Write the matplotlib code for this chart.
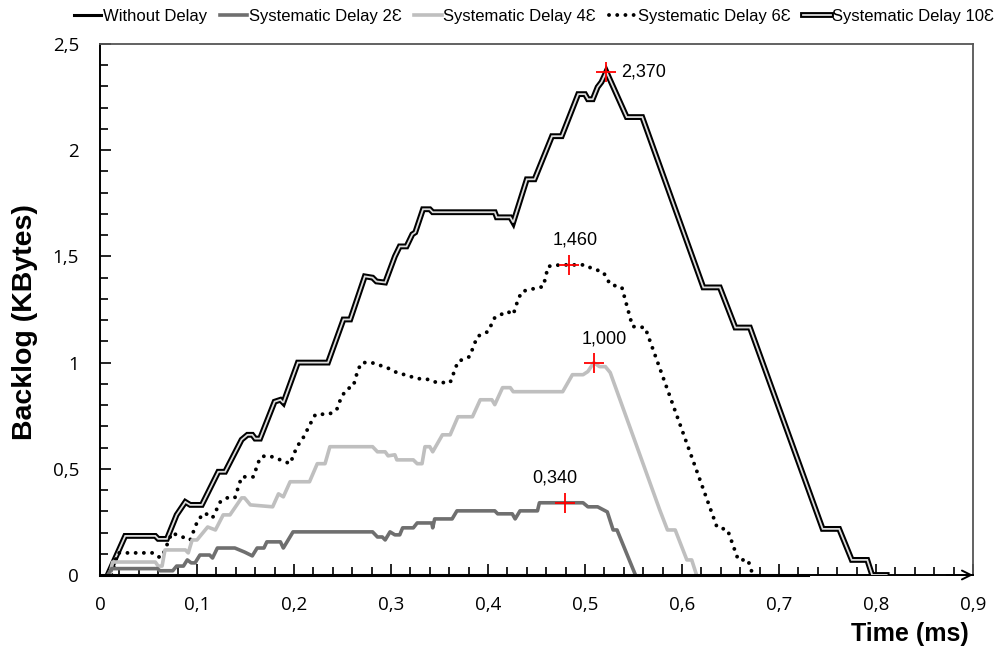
import matplotlib
matplotlib.use('Agg')
import matplotlib.pyplot as plt
import matplotlib.patheffects as pe
from matplotlib.ticker import MultipleLocator, FuncFormatter

plt.rcParams['font.family'] = ['Liberation Sans', 'DejaVu Sans']

# backlog traces (time in ms, backlog in KBytes)
t_none = [0.0, 0.73]
b_none = [0.0, 0.0]

t_d2 = [0.008, 0.012, 0.059, 0.062, 0.075, 0.079, 0.086, 0.090, 0.094, 0.098, 0.103, 0.113,
        0.116, 0.121, 0.139, 0.149, 0.157, 0.162, 0.169, 0.172, 0.186, 0.189, 0.194, 0.199,
        0.281, 0.286, 0.291, 0.294, 0.299, 0.304, 0.309, 0.312, 0.323, 0.327, 0.342, 0.343,
        0.345, 0.363, 0.368, 0.407, 0.410, 0.425, 0.428, 0.433, 0.451, 0.453, 0.479, 0.498,
        0.503, 0.513, 0.523, 0.529, 0.533, 0.552]
b_d2 = [0.0, 0.03, 0.03, 0.02, 0.02, 0.042, 0.042, 0.071, 0.057, 0.057, 0.094, 0.094,
        0.08, 0.127, 0.127, 0.108, 0.09, 0.127, 0.127, 0.156, 0.156, 0.127, 0.165, 0.203,
        0.203, 0.179, 0.179, 0.165, 0.203, 0.189, 0.189, 0.222, 0.222, 0.245, 0.245, 0.222,
        0.264, 0.264, 0.302, 0.302, 0.288, 0.288, 0.264, 0.302, 0.302, 0.34, 0.34, 0.34,
        0.321, 0.321, 0.297, 0.212, 0.212, 0.0]

t_d4 = [0.010, 0.013, 0.057, 0.060, 0.064, 0.067, 0.088, 0.091, 0.095, 0.100, 0.111, 0.119,
        0.127, 0.134, 0.146, 0.149, 0.155, 0.178, 0.184, 0.189, 0.196, 0.216, 0.224, 0.232,
        0.237, 0.281, 0.286, 0.294, 0.297, 0.304, 0.306, 0.323, 0.327, 0.332, 0.335, 0.340,
        0.343, 0.353, 0.361, 0.369, 0.384, 0.392, 0.404, 0.407, 0.415, 0.423, 0.426, 0.477,
        0.487, 0.498, 0.503, 0.509, 0.515, 0.521, 0.526, 0.577, 0.585, 0.593, 0.605, 0.610,
        0.615]
b_d4 = [0.0, 0.061, 0.061, 0.042, 0.042, 0.118, 0.118, 0.104, 0.165, 0.165, 0.226, 0.212,
        0.283, 0.283, 0.363, 0.363, 0.33, 0.321, 0.382, 0.368, 0.439, 0.439, 0.524, 0.524,
        0.604, 0.604, 0.58, 0.58, 0.561, 0.566, 0.542, 0.542, 0.524, 0.524, 0.604, 0.604,
        0.58, 0.66, 0.66, 0.745, 0.745, 0.825, 0.825, 0.802, 0.882, 0.882, 0.863, 0.863,
        0.943, 0.943, 0.958, 1.0, 0.981, 0.981, 0.953, 0.307, 0.212, 0.212, 0.071, 0.071,
        0.0]

t_d6 = [0.012, 0.018, 0.054, 0.060, 0.064, 0.074, 0.085, 0.093, 0.101, 0.108, 0.116, 0.124,
        0.131, 0.139, 0.146, 0.158, 0.165, 0.170, 0.177, 0.186, 0.196, 0.203, 0.209, 0.219,
        0.222, 0.237, 0.244, 0.249, 0.255, 0.261, 0.266, 0.270, 0.280, 0.296, 0.306, 0.314,
        0.327, 0.340, 0.347, 0.361, 0.369, 0.381, 0.389, 0.400, 0.407, 0.420, 0.426, 0.431,
        0.435, 0.448, 0.457, 0.462, 0.474, 0.484, 0.500, 0.505, 0.519, 0.526, 0.538, 0.549,
        0.562, 0.636, 0.647, 0.658, 0.668, 0.673]
b_d6 = [0.0, 0.104, 0.104, 0.085, 0.085, 0.198, 0.179, 0.165, 0.26, 0.292, 0.269, 0.344,
        0.363, 0.363, 0.462, 0.462, 0.552, 0.561, 0.557, 0.542, 0.524, 0.604, 0.642, 0.731,
        0.755, 0.759, 0.778, 0.84, 0.877, 0.887, 0.967, 1.0, 1.0, 0.976, 0.953, 0.943,
        0.925, 0.92, 0.906, 0.906, 1.005, 1.028, 1.123, 1.146, 1.212, 1.241, 1.226, 1.297,
        1.335, 1.349, 1.358, 1.453, 1.46, 1.46, 1.46, 1.448, 1.425, 1.368, 1.354, 1.17,
        1.165, 0.226, 0.212, 0.071, 0.071, 0.0]

t_d10 = [0.008, 0.026, 0.057, 0.060, 0.069, 0.079, 0.088, 0.093, 0.105, 0.122, 0.129, 0.146,
         0.152, 0.157, 0.160, 0.165, 0.180, 0.186, 0.189, 0.204, 0.235, 0.251, 0.258, 0.273,
         0.281, 0.285, 0.294, 0.304, 0.309, 0.316, 0.322, 0.325, 0.333, 0.340, 0.343, 0.407,
         0.409, 0.423, 0.426, 0.440, 0.448, 0.466, 0.476, 0.493, 0.500, 0.503, 0.508, 0.513,
         0.517, 0.522, 0.543, 0.559, 0.622, 0.639, 0.655, 0.670, 0.745, 0.762, 0.775, 0.791,
         0.796, 0.811]
b_d10 = [0.0, 0.184, 0.184, 0.17, 0.17, 0.283, 0.344, 0.33, 0.33, 0.486, 0.486, 0.637,
         0.66, 0.66, 0.642, 0.642, 0.816, 0.825, 0.811, 1.0, 1.0, 1.203, 1.203, 1.406,
         1.40, 1.382, 1.377, 1.5, 1.547, 1.547, 1.604, 1.613, 1.722, 1.722, 1.708, 1.708,
         1.684, 1.684, 1.66, 1.863, 1.863, 2.066, 2.066, 2.264, 2.264, 2.24, 2.24, 2.297,
         2.321, 2.37, 2.156, 2.156, 1.354, 1.354, 1.165, 1.165, 0.217, 0.217, 0.071, 0.071,
         0.0, 0.0]

# maximum backlog points and where their labels sit (pixel offsets)
peak_t = [0.522, 0.484, 0.509, 0.479]
peak_b = [2.370, 1.460, 1.000, 0.340]
peak_off = [(15, 0), (6, 25), (11, 24), (-10, 25)]
peak_ha = ['left', 'center', 'center', 'center']

fig = plt.figure(figsize=(10, 6.5), dpi=100)
ax = fig.add_axes([0.1, 0.1154, 0.873, 0.8169])

ax.plot(t_d10, b_d10, color='#dcdcdc', lw=1.3, solid_joinstyle='miter',
        path_effects=[pe.Stroke(linewidth=4.2, foreground='black'), pe.Normal()],
        label='Systematic Delay 10Ɛ', zorder=3)
ax.plot(t_d6, b_d6, color='black', lw=2.8, linestyle=(0, (0.01, 2.1)),
        dash_capstyle='round', label='Systematic Delay 6Ɛ', zorder=4)
ax.plot(t_d4, b_d4, color='#bfbfbf', lw=2.6, label='Systematic Delay 4Ɛ', zorder=5)
ax.plot(t_d2, b_d2, color='#6f6f6f', lw=2.6, label='Systematic Delay 2Ɛ', zorder=6)
ax.plot(t_none, b_none, color='black', lw=2.2, label='Without Delay', zorder=7,
        clip_on=False)

ax.plot(peak_t, peak_b, linestyle='none', marker='+', markersize=15, mew=1.3,
        color='#ff0000', zorder=8)
for t, b, off, ha in zip(peak_t, peak_b, peak_off, peak_ha):
    ax.annotate(f'{b:.3f}'.replace('.', ','), xy=(t, b), xytext=off,
                textcoords='offset pixels', ha=ha, va='center', fontsize=13)

ax.set_xlim(0, 0.9)
ax.set_ylim(0, 2.5)

comma = FuncFormatter(lambda v, _: ('%g' % round(v, 2)).replace('.', ','))
ax.xaxis.set_major_locator(MultipleLocator(0.1))
ax.xaxis.set_minor_locator(MultipleLocator(0.02))
ax.yaxis.set_major_locator(MultipleLocator(0.5))
ax.yaxis.set_minor_locator(MultipleLocator(0.1))
ax.xaxis.set_major_formatter(comma)
ax.yaxis.set_major_formatter(comma)
ax.tick_params(which='both', direction='in', width=1.2, color='black',
               labelsize=13.5, pad=15, top=False, right=False)
ax.tick_params(which='major', length=8)
ax.tick_params(which='minor', length=6)
for lab in ax.get_xticklabels() + ax.get_yticklabels():
    lab.set_family(['Open Sans', 'DejaVu Sans'])

for side in ['left', 'bottom']:
    ax.spines[side].set_linewidth(1.4)
    ax.spines[side].set_color('black')
for side in ['top', 'right']:
    ax.spines[side].set_linewidth(1.3)
    ax.spines[side].set_color('#555555')

ax.annotate('', xy=(1.0, 0), xytext=(0.97, 0), xycoords='axes fraction',
            arrowprops=dict(arrowstyle='->', lw=1.4, color='black',
                            mutation_scale=16, shrinkA=0, shrinkB=0))

ax.set_xlabel('Time (ms)', fontsize=18, fontweight='bold', loc='right', labelpad=6)
ax.xaxis.label.set_x(0.995)
ax.set_ylabel('Backlog (KBytes)', fontsize=20.5, fontweight='bold')
ax.yaxis.set_label_coords(-0.071, 0.476)

handles, labels = ax.get_legend_handles_labels()
order = [4, 3, 2, 1, 0]
fig.legend([handles[i] for i in order], [labels[i] for i in order],
           loc='upper center', bbox_to_anchor=(0.534, 1.01), ncol=5, frameon=False,
           fontsize=12, handlelength=1.65, handletextpad=0.1, columnspacing=0.75)

fig.savefig('out.png', dpi=100)
